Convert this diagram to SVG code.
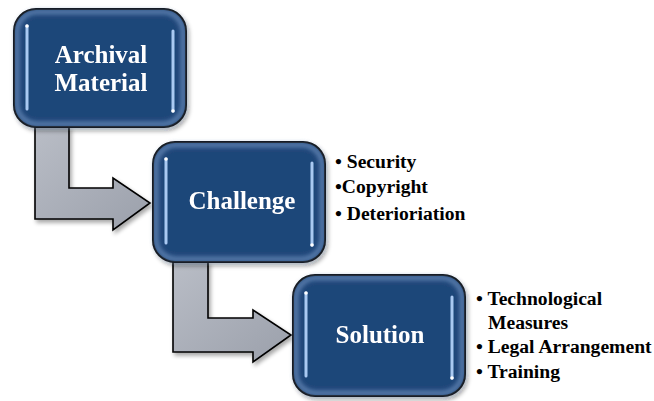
<svg xmlns="http://www.w3.org/2000/svg" width="654" height="401" viewBox="0 0 654 401">
<defs>
<style>
.box{fill:#1f4679;stroke:#000;stroke-width:2}
.glow{fill:none;stroke:#7d9fcc;stroke-width:5;opacity:0.6;filter:url(#blur)}
.hl{stroke:#a9c9f2;stroke-width:3;stroke-linecap:round}
.dot{fill:#fff}
.arrow{fill:url(#gray);stroke:#000;stroke-width:1.6;stroke-linejoin:miter}
.title{font-family:"Liberation Serif",serif;font-weight:bold;font-size:25px;fill:#fff;text-anchor:middle}
.item{font-family:"Liberation Serif",serif;font-weight:bold;font-size:19.6px;fill:#000}
</style>
<filter id="blur" x="-10%" y="-10%" width="120%" height="120%"><feGaussianBlur stdDeviation="2"/></filter>
<filter id="shadow" x="-10%" y="-10%" width="125%" height="125%"><feGaussianBlur in="SourceAlpha" stdDeviation="2"/><feOffset dx="2" dy="3"/><feComponentTransfer><feFuncA type="linear" slope="0.35"/></feComponentTransfer><feMerge><feMergeNode/><feMergeNode in="SourceGraphic"/></feMerge></filter>
<linearGradient id="gray" x1="0" y1="0" x2="1" y2="1"><stop offset="0" stop-color="#b9bdc6"/><stop offset="1" stop-color="#9ba0ab"/></linearGradient>
</defs>
<g id="connectors">
<path class="arrow" filter="url(#shadow)" d="M35,127 L69,127 L69,188 L113,188 L113,178 L150,203 L113,230 L113,219 L35,219 Z"/>
<path class="arrow" filter="url(#shadow)" d="M173,262 L208,262 L208,318 L253,318 L253,310 L291,335 L253,362 L253,352 L173,352 Z"/>
</g>
<g id="archival" filter="url(#shadow)">
<rect class="box" x="14" y="9" width="172" height="118" rx="22"/>
<rect class="glow" x="17" y="12" width="166" height="112" rx="20"/>
<line class="hl" x1="27" y1="26" x2="27" y2="109"/><circle class="dot" cx="27" cy="26" r="1.8"/>
<line class="hl" x1="173" y1="31" x2="173" y2="111"/><circle class="dot" cx="173" cy="111" r="1.8"/>
<text class="title" x="101" y="63">Archival</text>
<text class="title" x="101" y="91">Material</text>
</g>
<g id="challenge" filter="url(#shadow)">
<rect class="box" x="153" y="142" width="172" height="120" rx="22"/>
<rect class="glow" x="156" y="145" width="166" height="114" rx="20"/>
<line class="hl" x1="166" y1="159" x2="166" y2="243"/><circle class="dot" cx="166" cy="159" r="1.8"/>
<line class="hl" x1="312" y1="163" x2="312" y2="245"/><circle class="dot" cx="312" cy="245" r="1.8"/>
<text class="title" x="242" y="209">Challenge</text>
</g>
<g id="challenge-items">
<text class="item" x="335" y="168">• Security</text>
<text class="item" x="335" y="193">•Copyright</text>
<text class="item" x="335" y="220">• Deterioriation</text>
</g>
<g id="solution" filter="url(#shadow)">
<rect class="box" x="293" y="275" width="172" height="121" rx="22"/>
<rect class="glow" x="296" y="278" width="166" height="115" rx="20"/>
<line class="hl" x1="306" y1="293" x2="306" y2="376"/><circle class="dot" cx="306" cy="293" r="1.8"/>
<line class="hl" x1="452" y1="297" x2="452" y2="378"/><circle class="dot" cx="452" cy="378" r="1.8"/>
<text class="title" x="380" y="343">Solution</text>
</g>
<g id="solution-items">
<text class="item" x="476" y="305">• Technological</text>
<text class="item" x="488" y="329">Measures</text>
<text class="item" x="476" y="353">• Legal Arrangement</text>
<text class="item" x="476" y="378">• Training</text>
</g>
</svg>
